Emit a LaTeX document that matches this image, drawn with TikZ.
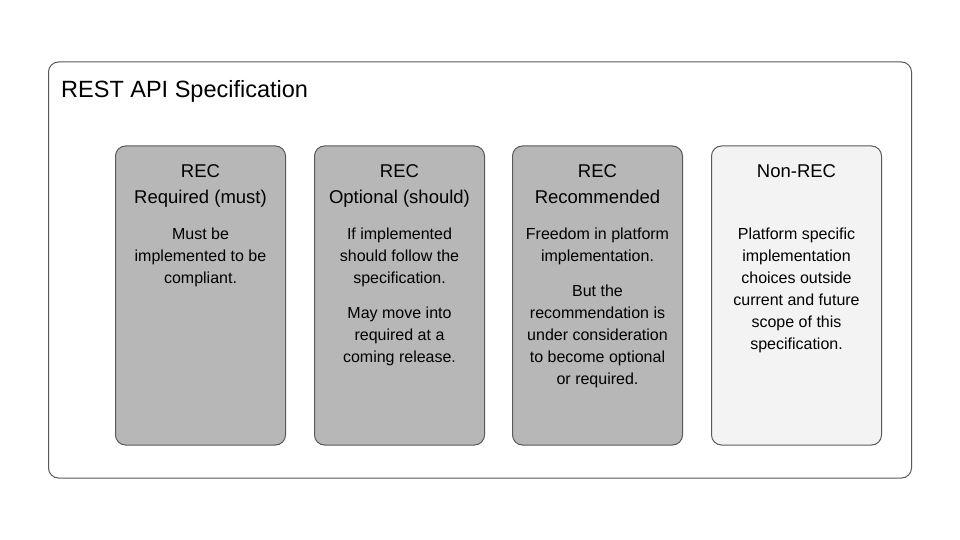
\documentclass[tikz,border=0pt]{standalone}
\usepackage{fontspec}
\setmainfont{Liberation Sans}
\definecolor{edge}{HTML}{595959}
\definecolor{recfill}{HTML}{B7B7B7}
\definecolor{nonfill}{HTML}{F3F3F3}
\begin{document}
\begin{tikzpicture}[x=1pt,y=-1pt,
  outerbox/.style={draw=edge, line width=1pt, rounded corners=10pt, fill=white},
  recbox/.style={draw=edge, line width=1pt, rounded corners=10pt, fill=recfill},
  nonbox/.style={draw=edge, line width=1pt, rounded corners=10pt, fill=nonfill},
  heading/.style={anchor=north, inner sep=0pt, align=center, text=black, font=\fontsize{18.5}{26}\selectfont},
  body/.style={anchor=north, inner sep=0pt, align=center, text=black, font=\fontsize{16}{22}\selectfont},
  title/.style={anchor=base west, inner sep=0pt, text=black, font=\fontsize{23.5}{28}\selectfont}]
\useasboundingbox (0,0) rectangle (960,540);
\fill[white] (0,0) rectangle (960,540);
% outer container
\draw[outerbox] (48.5,62) rectangle (911.5,478);
\node[title] (title) at (61,97.5) {REST API Specification};
% boxes
\draw[recbox] (115.5,146) rectangle (285.5,445);
\draw[recbox] (314.5,146) rectangle (484.5,445);
\draw[recbox] (512.5,146) rectangle (682.5,445);
\draw[nonbox] (711.5,146) rectangle (881.5,445);
% headings (baseline 177 -> top 163)
\node[heading] (h1) at (200.5,163) {\rule{0pt}{14pt}REC\\Required (must)};
\node[heading] (h2) at (399.5,163) {\rule{0pt}{14pt}REC\\Optional (should)};
\node[heading] (h3) at (597.5,163) {\rule{0pt}{14pt}REC\\Recommended};
\node[heading] (h4) at (796.5,163) {\rule{0pt}{14pt}Non-REC};
% bodies (baseline 239 -> top 227)
\node[body] (b1) at (200.5,227) {\rule{0pt}{12pt}Must be\\implemented to be\\compliant.};
\node[body] (b2a) at (399.5,227) {\rule{0pt}{12pt}If implemented\\should follow the\\specification.};
\node[body] (b2b) at (399.5,306.5) {\rule{0pt}{12pt}May move into\\required at a\\coming release.};
\node[body] (b3a) at (597.5,227) {\rule{0pt}{12pt}Freedom in platform\\implementation.};
\node[body] (b3b) at (597.5,284) {\rule{0pt}{12pt}But the\\recommendation is\\under consideration\\to become optional\\or required.};
\node[body] (b4) at (796.5,227) {\rule{0pt}{12pt}Platform specific\\implementation\\choices outside\\current and future\\scope of this\\specification.};
\end{tikzpicture}
\end{document}
